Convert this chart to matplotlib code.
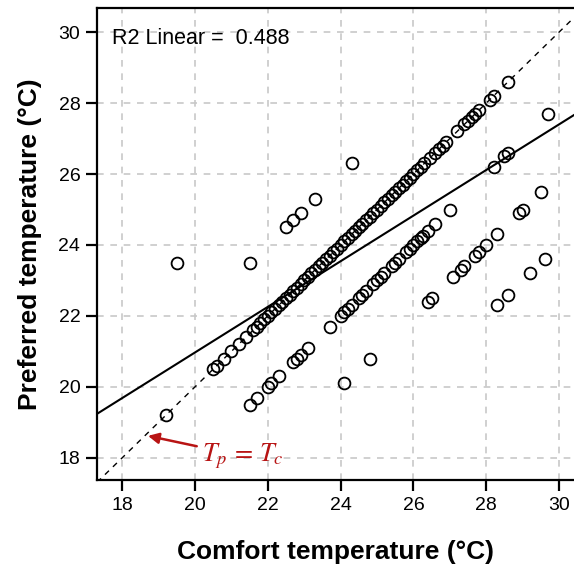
import numpy as np
import matplotlib
matplotlib.use("Agg")
import matplotlib.pyplot as plt

plt.rcParams["font.family"] = ["Liberation Sans", "DejaVu Sans"]
plt.rcParams["mathtext.fontset"] = "stix"

# ---- survey responses: comfort temperature vs preferred temperature ----
comfort = [
    # along Tp = Tc
    19.2, 20.5, 20.6, 20.8, 21.0, 21.2, 21.4, 21.6, 21.7, 21.8, 21.9,
    22.0, 22.1, 22.2, 22.3, 22.4, 22.5, 22.6, 22.7, 22.8, 22.9, 23.0,
    23.1, 23.2, 23.3, 23.4, 23.5, 23.6, 23.7, 23.8, 23.9, 24.0, 24.1,
    24.2, 24.3, 24.4, 24.5, 24.6, 24.7, 24.8, 24.9, 25.0, 25.1, 25.2,
    25.3, 25.4, 25.5, 25.6, 25.7, 25.8, 25.9, 26.0, 26.1, 26.2, 26.3,
    26.45, 26.6, 26.7, 26.8, 26.9, 27.2, 27.4, 27.5, 27.6, 27.7, 27.8,
    28.1, 28.2, 28.6,
    # preferred warmer than comfort
    19.5, 21.5, 22.5, 22.7, 22.9, 23.3, 24.3,
    # preferred 2 degrees cooler
    21.5, 21.7, 22.0, 22.1, 22.3, 22.7, 22.8, 22.9, 23.1, 23.7, 24.0,
    24.1, 24.2, 24.3, 24.5, 24.6, 24.7, 24.9, 25.0, 25.1, 25.2, 25.4,
    25.5, 25.6, 25.8, 25.9, 26.0, 26.1, 26.2, 26.25, 26.4, 26.6, 27.0,
    28.2, 28.5, 28.6, 29.7,
    # preferred 4 degrees cooler
    24.1, 24.8, 26.4, 26.5, 27.1, 27.3, 27.4, 27.7, 27.8, 28.0, 28.3,
    28.9, 29.0, 29.5,
    # preferred 6 degrees cooler
    28.3, 28.6, 29.2, 29.6,
]
preferred = [
    19.2, 20.5, 20.6, 20.8, 21.0, 21.2, 21.4, 21.6, 21.7, 21.8, 21.9,
    22.0, 22.1, 22.2, 22.3, 22.4, 22.5, 22.6, 22.7, 22.8, 22.9, 23.0,
    23.1, 23.2, 23.3, 23.4, 23.5, 23.6, 23.7, 23.8, 23.9, 24.0, 24.1,
    24.2, 24.3, 24.4, 24.5, 24.6, 24.7, 24.8, 24.9, 25.0, 25.1, 25.2,
    25.3, 25.4, 25.5, 25.6, 25.7, 25.8, 25.9, 26.0, 26.1, 26.2, 26.3,
    26.45, 26.6, 26.7, 26.8, 26.9, 27.2, 27.4, 27.5, 27.6, 27.7, 27.8,
    28.1, 28.2, 28.6,
    23.5, 23.5, 24.5, 24.7, 24.9, 25.3, 26.3,
    19.5, 19.7, 20.0, 20.1, 20.3, 20.7, 20.8, 20.9, 21.1, 21.7, 22.0,
    22.1, 22.2, 22.3, 22.5, 22.6, 22.7, 22.9, 23.0, 23.1, 23.2, 23.4,
    23.5, 23.6, 23.8, 23.9, 24.0, 24.1, 24.2, 24.25, 24.4, 24.6, 25.0,
    26.2, 26.5, 26.6, 27.7,
    20.1, 20.8, 22.4, 22.5, 23.1, 23.3, 23.4, 23.7, 23.8, 24.0, 24.3,
    24.9, 25.0, 25.5,
    22.3, 22.6, 23.2, 23.6,
]

# linear fit reported with the chart
fit_intercept = 8.11
fit_slope = 0.643
r2_linear = 0.488

ticks = [18, 20, 22, 24, 26, 28, 30]

fig = plt.figure(figsize=(5.74, 5.71), dpi=100)
ax = fig.add_axes([0.169, 0.159, 0.831, 0.827])

ax.set_xlim(17.31, 30.41)
ax.set_ylim(17.37, 30.68)

# dashed grid
ax.set_xticks(ticks)
ax.set_yticks(ticks)
ax.grid(True, color="#c8c8c8", linestyle=(0, (4, 4)), linewidth=1.2)
ax.set_axisbelow(True)

# Tp = Tc reference line
lims = np.array([17.31, 30.41])
ax.plot(lims, lims, color="black", linestyle=(0, (4, 4)), linewidth=1.0, zorder=2)

# fitted regression line
ax.plot(lims, fit_intercept + fit_slope * lims, color="black", linewidth=1.5, zorder=3)

ax.plot(comfort, preferred, linestyle="none", marker="o", markersize=8.5,
        markerfacecolor="none", markeredgecolor="black", markeredgewidth=1.3, zorder=4)

ax.text(0.032, 0.936, f"R2 Linear =  {r2_linear}", transform=ax.transAxes,
        fontsize=15.5, ha="left", va="center")

ax.annotate(r"$T_p\,=\,T_c$", xy=(18.71, 18.62), xytext=(20.2, 18.05),
            fontsize=19, color="#b81414", ha="left", va="center",
            arrowprops=dict(arrowstyle="-|>", color="#b81414", lw=1.8,
                            mutation_scale=16, shrinkA=2, shrinkB=0))

for side in ["top", "left", "bottom"]:
    ax.spines[side].set_linewidth(1.6)
ax.spines["right"].set_visible(False)

ax.tick_params(axis="both", direction="out", length=8, width=1.6, labelsize=14, pad=4)

ax.set_xlabel("Comfort temperature (°C)", fontsize=19, fontweight="bold", labelpad=19)
ax.set_ylabel("Preferred temperature (°C)", fontsize=19, fontweight="bold", labelpad=12)

fig.savefig("out.png", dpi=100)
